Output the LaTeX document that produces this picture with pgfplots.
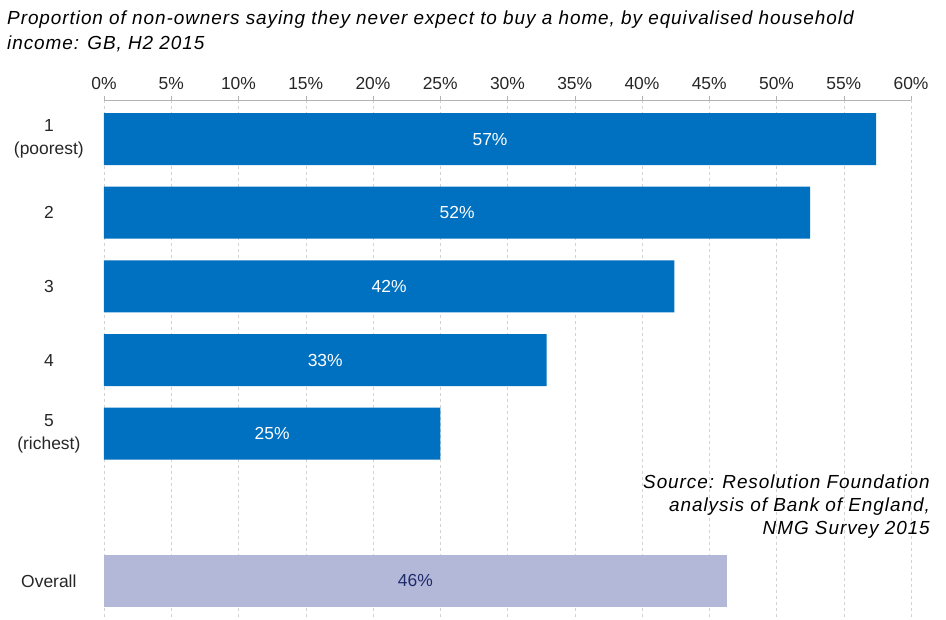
\documentclass[border=0pt]{standalone}
\usepackage{pgfplots}
\pgfplotsset{compat=1.18}
\usepackage{fontspec}
\setmainfont{Liberation Sans}
\newfontfamily\titlefont[LetterSpace=5]{Liberation Sans}
\definecolor{barblue}{RGB}{0,112,192}
\definecolor{barlav}{RGB}{180,184,216}
\definecolor{navy}{RGB}{31,42,107}
\begin{document}
\fontsize{17.5}{23}\selectfont
\begin{tikzpicture}[x=1bp,y=1bp]
\begin{axis}[
  at={(0,0)}, anchor=south west,
  scale only axis, width=807bp, height=520bp,
  xmin=0, xmax=60, ymin=-0.53, ymax=6.53, y dir=reverse,
  axis x line*=top, axis y line=none,
  xtick={0,5,...,60}, xticklabel={\pgfmathprintnumber{\tick}\%},
  /pgf/number format/assume math mode=true,
  tick label style={font=\fontsize{17.5}{21}\selectfont, text=black!85},
  x axis line style={draw=gray!60},
  xtick style={draw=gray!60},
  tick align=outside, major tick length=4bp,
  xmajorgrids, grid style={dashed, gray!35},
  ytick={0,1,2,3,4,6},
  yticklabels={},
  xbar, bar width=52bp, bar shift=0pt,
  clip=false,
]
\addplot[fill=barblue, draw=none]
  coordinates {(57.4,0) (52.5,1) (42.4,2) (32.9,3) (25.0,4)};
\addplot[fill=barlav, draw=none]
  coordinates {(46.3,6)};
\node[text=white] at (axis cs:28.7,0) {57\%};
\node[text=white] at (axis cs:26.25,1) {52\%};
\node[text=white] at (axis cs:21.2,2) {42\%};
\node[text=white] at (axis cs:16.45,3) {33\%};
\node[text=white] at (axis cs:12.5,4) {25\%};
\node[text=navy] at (axis cs:23.15,6) {46\%};
\coordinate (sw) at (rel axis cs:0,0);
\coordinate (ne) at (rel axis cs:1,1);
\node[align=center, text=black!85] at (axis cs:-4.1,0) {1\\(poorest)};
\node[align=center, text=black!85] at (axis cs:-4.1,1) {2};
\node[align=center, text=black!85] at (axis cs:-4.1,2) {3};
\node[align=center, text=black!85] at (axis cs:-4.1,3) {4};
\node[align=center, text=black!85] at (axis cs:-4.1,4) {5\\(richest)};
\node[align=center, text=black!85] at (axis cs:-4.1,6) {Overall};
\end{axis}
\pgfresetboundingbox
\path ([xshift=-104bp]sw) rectangle ([xshift=35bp,yshift=100bp]ne);
\node[anchor=north west, align=left, font=\titlefont\itshape\fontsize{19}{25}\selectfont, inner sep=0pt] at ([xshift=-97bp,yshift=89bp]sw|-ne) {Proportion of non-owners saying they never expect to buy a home, by equivalised household\\income: GB, H2 2015};
\node[anchor=north east, align=right, font=\titlefont\itshape\fontsize{19}{23}\selectfont, inner sep=0pt] at ([xshift=19bp,yshift=-375bp]ne) {Source: Resolution Foundation\\analysis of Bank of England,\\NMG Survey 2015};
\end{tikzpicture}
\end{document}
